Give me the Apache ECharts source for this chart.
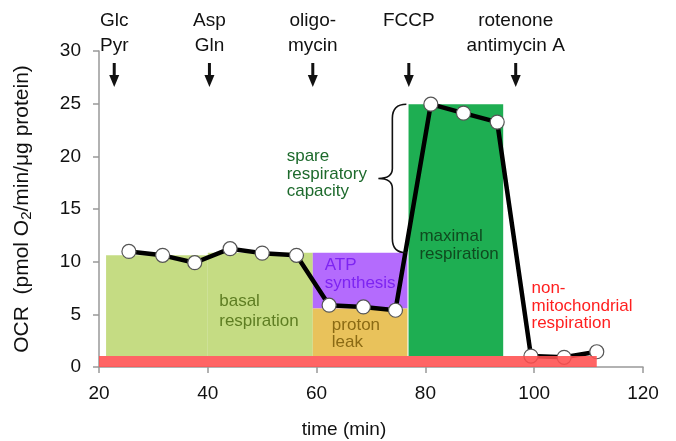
<!DOCTYPE html>
<html>
<head>
<meta charset="utf-8">
<script src="https://cdn.jsdelivr.net/npm/echarts@6/dist/echarts.min.js"></script>
<style>
  html, body { margin: 0; padding: 0; background: #fff; }
  #ocr-chart { width: 676px; height: 441px; }
</style>
</head>
<body>
<div id="ocr-chart"></div>
<script>
// measured OCR trace
var timeMin = [25.5, 31.7, 37.6, 44.1, 50.0, 56.3, 62.3, 68.6, 74.5, 81.0, 87.0, 93.2, 99.4, 105.5, 111.5];
var ocrValues = [10.97, 10.6, 9.9, 11.23, 10.81, 10.6, 5.87, 5.7, 5.39, 24.95, 24.1, 23.25, 1.04, 0.92, 1.45];

// injections
var drugTimes = [22.8, 40.3, 59.3, 76.95, 96.6];
var drugNames = ["Glc\nPyr", "Asp\nGln", "oligo-\nmycin", "FCCP", "rotenone\nantimycin A"];

// shaded blocks: [t start, t end, ocr low, ocr high]
var basalBlocks = [
  [21.3, 40.0, 1.05, 10.6],
  [40.0, 59.3, 1.05, 10.85]
];
var atpBlock = [[59.3, 76.7, 5.55, 10.85]];
var leakBlock = [[59.3, 76.7, 1.05, 5.55]];
var maximalBlock = [[76.9, 94.3, 1.05, 24.95]];
var nonMitoBlock = [[20.0, 111.5, 0, 1.05]];

// spare capacity brace: [t, ocr low, ocr high]
var spareBrace = [[76.5, 10.85, 24.95]];

var regionTexts = ["basal\nrespiration", "ATP\nsynthesis", "proton\nleak", "maximal\nrespiration", "non-\nmitochondrial\nrespiration", "spare\nrespiratory\ncapacity"];

var xTicks = [20, 40, 60, 80, 100, 120];
var yTicks = [0, 5, 10, 15, 20, 25, 30];

var FONT = "Liberation Sans";

function blockSeries(data, color, z, opacity) {
  return {
    type: "custom",
    z: z,
    silent: true,
    encode: { x: [0, 1], y: [2, 3] },
    data: data,
    renderItem: function(params, api) {
      var a = api.coord([api.value(0), api.value(3)]);
      var b = api.coord([api.value(1), api.value(2)]);
      return {
        type: "rect",
        shape: { x: a[0], y: a[1], width: b[0] - a[0], height: b[1] - a[1] },
        style: { fill: color, opacity: opacity || 1 }
      };
    }
  };
}

// label anchors in data coords (left edge, first line centre)
var labelAnchors = [
  [42.1, 6.27, "#5e7d22", 20],
  [61.5, 9.65, "#7d24f2", 18],
  [62.8, 3.97, "#8a6a14", 17],
  [78.9, 12.42, "#0f4a1f", 18],
  [99.5, 7.45, "#ff1f1f", 17.5],
  [54.5, 19.96, "#1d6a2c", 17.5]
];

var chart = echarts.init(document.getElementById("ocr-chart"));

var option = {
  animation: false,
  backgroundColor: "#ffffff",
  grid: { left: 99, right: 33, top: 51, bottom: 74, containLabel: false, outerBoundsMode: "none" },
  xAxis: {
    type: "value",
    min: 20,
    max: 120,
    interval: 20,
    name: "time (min)",
    nameLocation: "middle",
    nameGap: 53,
    nameTextStyle: { fontFamily: FONT, fontSize: 19, color: "#111", padding: [0, 54, 0, 0] },
    axisLine: { lineStyle: { color: "#999", width: 1.5 } },
    axisTick: { show: true, inside: false, length: 6, lineStyle: { color: "#999", width: 1.5 } },
    axisLabel: {
      margin: 17,
      fontFamily: FONT,
      fontSize: 19,
      color: "#111",
      formatter: function(v) { return xTicks.indexOf(v) >= 0 ? String(v) : ""; }
    },
    splitLine: { show: false }
  },
  yAxis: {
    type: "value",
    min: 0,
    max: 30,
    interval: 5,
    name: "OCR  (pmol O{sub|2}/min/μg protein)",
    nameLocation: "middle",
    nameRotate: 90,
    nameGap: 65,
    nameTextStyle: {
      fontFamily: FONT,
      fontSize: 21,
      color: "#111",
      rich: {
        sub: { fontFamily: FONT, fontSize: 15, color: "#111", padding: [8, 0, 0, 0] }
      }
    },
    axisLine: { show: true, lineStyle: { color: "#999", width: 1.5 } },
    axisTick: { show: true, inside: false, length: 6, lineStyle: { color: "#999", width: 1.5 } },
    axisLabel: {
      margin: 18,
      fontFamily: FONT,
      fontSize: 19,
      color: "#111",
      formatter: function(v) { return yTicks.indexOf(v) >= 0 ? String(v) : ""; }
    },
    splitLine: { show: false }
  },
  series: [
    blockSeries(basalBlocks, "#c5dc83", 1),
    blockSeries(atpBlock, "#b46bfd", 1),
    blockSeries(leakBlock, "#e9c25b", 1),
    blockSeries(maximalBlock, "#1eae52", 1),
    {
      type: "line",
      z: 5,
      data: timeMin.map(function(t, i) { return [t, ocrValues[i]]; }),
      symbol: "circle",
      symbolSize: 14,
      showSymbol: true,
      lineStyle: { color: "#000", width: 4.5 },
      itemStyle: { color: "#fff", borderColor: "#555", borderWidth: 1.2 }
    },
    // red bar sits on top of the trace, slightly see-through
    blockSeries(nonMitoBlock, "#ff4f4f", 6, 0.88),
    {
      // region labels
      type: "custom",
      z: 7,
      silent: true,
      data: labelAnchors.map(function(a) { return [a[0], a[1]]; }),
      renderItem: function(params, api) {
        var a = labelAnchors[params.dataIndex];
        var p = api.coord([api.value(0), api.value(1)]);
        return {
          type: "text",
          x: p[0],
          y: p[1] - a[3] / 2,
          style: {
            text: regionTexts[params.dataIndex],
            fill: a[2],
            font: "17px " + FONT,
            lineHeight: a[3],
            align: "left",
            verticalAlign: "top"
          }
        };
      }
    },
    {
      // spare capacity brace
      type: "custom",
      z: 7,
      silent: true,
      data: spareBrace,
      renderItem: function(params, api) {
        var top = api.coord([api.value(0), api.value(2)]);
        var bot = api.coord([api.value(0), api.value(1)]);
        var tip = top[0];
        var sx = tip - 14;
        var mx = tip - 28;
        var my = (top[1] + bot[1]) / 2;
        var path = "M" + tip + " " + top[1] +
          " Q" + sx + " " + top[1] + " " + sx + " " + (top[1] + 14) +
          " L" + sx + " " + (my - 10) +
          " Q" + sx + " " + my + " " + mx + " " + my +
          " Q" + sx + " " + my + " " + sx + " " + (my + 10) +
          " L" + sx + " " + (bot[1] - 14) +
          " Q" + sx + " " + bot[1] + " " + tip + " " + bot[1];
        return {
          type: "path",
          shape: { pathData: path },
          style: { fill: null, stroke: "#111", lineWidth: 1.6 }
        };
      }
    },
    {
      // injection labels and arrows above the plot
      type: "custom",
      z: 7,
      silent: true,
      clip: false,
      data: drugTimes.map(function(t) { return [t, 30]; }),
      renderItem: function(params, api) {
        var p = api.coord([api.value(0), api.value(1)]);
        var x = p[0];
        var y0 = p[1];
        return {
          type: "group",
          children: [
            {
              type: "text",
              x: x,
              y: y0 - 42.5,
              style: {
                text: drugNames[params.dataIndex],
                fill: "#111",
                font: "19px " + FONT,
                lineHeight: 25,
                align: "center",
                verticalAlign: "top"
              }
            },
            {
              type: "rect",
              shape: { x: x - 1.5, y: y0 + 12, width: 3, height: 14 },
              style: { fill: "#111" }
            },
            {
              type: "polygon",
              shape: { points: [[x - 5, y0 + 24], [x + 5, y0 + 24], [x, y0 + 36]] },
              style: { fill: "#111" }
            }
          ]
        };
      }
    }
  ]
};

chart.setOption(option);
</script>
</body>
</html>
